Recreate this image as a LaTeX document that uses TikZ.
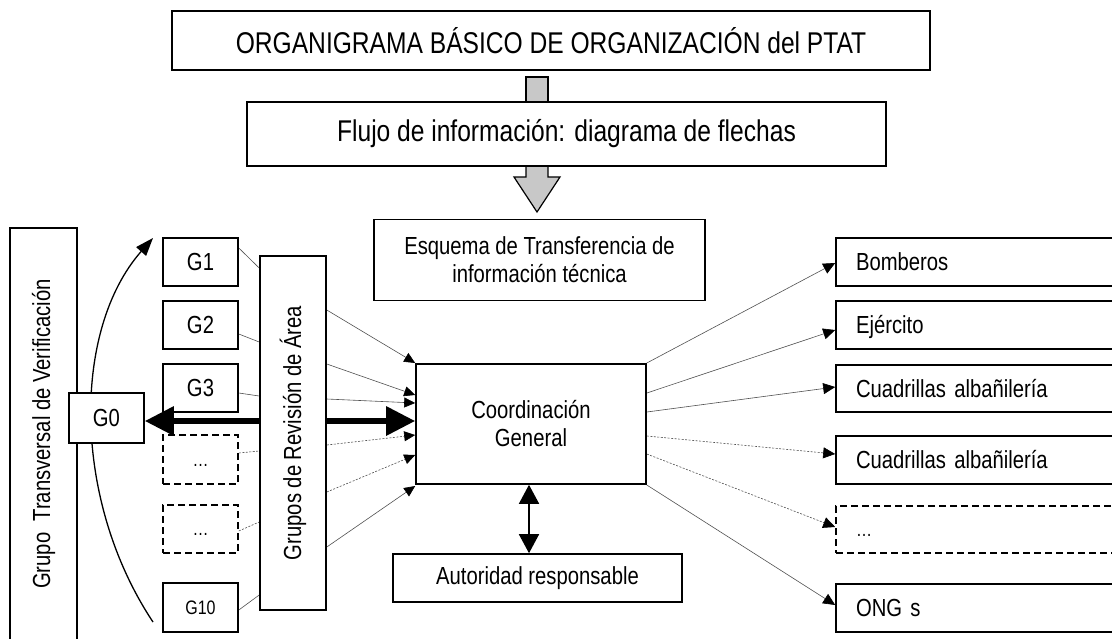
\documentclass[tikz,border=0pt]{standalone}
\usepackage{fontspec}
\setmainfont{Liberation Sans}[FakeStretch=0.82]
\usepackage{graphicx}
\usetikzlibrary{arrows.meta,calc}
\pgfdeclarelayer{bg}
\pgfsetlayers{bg,main}
\definecolor{arrowgray}{HTML}{C8C8C8}
\definecolor{linegray}{HTML}{505050}
\newcommand{\bigf}{\fontsize{30}{34}\selectfont\fontdimen2\font=6.8pt\relax}
\newcommand{\bodyf}{\fontsize{24.7}{28}\selectfont\fontdimen2\font=5.6pt\relax}
\newcommand{\smallf}{\fontsize{19.5}{22}\selectfont\fontdimen2\font=4.5pt\relax}
\begin{document}
\begin{tikzpicture}[x=1pt,y=-1pt,
  box/.style={draw, line width=1.6pt, fill=white, inner sep=0pt, font=\bodyf, align=center},
  dbox/.style={box, dash pattern=on 7pt off 4pt},
  gbox/.style={box, minimum width=75pt, minimum height=48pt},
  rbox/.style={box, align=left, text width=250pt, inner xsep=20pt, minimum height=48pt, text height=17.7pt, text depth=0pt},
  conn/.style={draw=linegray, line width=0.6pt},
  dconn/.style={conn, dash pattern=on 2pt off 1.5pt},
  tip/.style={-{Triangle[length=11pt,width=10pt,color=black]}},
  rtip/.style={-{Triangle[length=12pt,width=11pt,color=black]}},
  blockarrow/.style={draw, line width=1.2pt, fill=arrowgray}
]
\useasboundingbox (0,0) rectangle (1112,638);

% main boxes
\node[box, font=\bigf, minimum width=758pt, minimum height=59pt] (title) at (551,40.5) {ORGANIGRAMA BÁSICO DE ORGANIZACIÓN del PTAT};
\node[box, font=\bigf, minimum width=639pt, minimum height=64pt] (flujo) at (566.5,134) {Flujo de información: diagrama de flechas};
\node[box, minimum width=331pt, minimum height=81pt] (esq) at (539.5,260) {Esquema de Transferencia de\\información técnica};
\node[box, minimum width=230pt, minimum height=120pt] (coord) at (531,424) {Coordinación\\General};
\node[box, minimum width=289pt, minimum height=48pt] (aut) at (537.5,578) {Autoridad responsable};

% left side
\node[box, minimum width=67pt, minimum height=412pt] (gtv) at (43.5,434) {\rotatebox{90}{Grupo\ \ Transversal de Verificación}};
\node[box, minimum width=75pt, minimum height=50pt] (g0) at (106.5,418) {G0};
\node[gbox] (g1) at (200.5,262) {G1};
\node[gbox] (g2) at (200.5,325) {G2};
\node[gbox] (g3) at (200.5,388) {G3};
\node[dbox, font=\smallf, minimum width=75pt, minimum height=49pt] (d1) at (200.5,459.5) {\vphantom{G}…};
\node[dbox, font=\smallf, minimum width=75pt, minimum height=48pt] (d2) at (200.5,529) {\vphantom{G}…};
\node[gbox, font=\smallf, minimum height=49pt] (g10) at (200.5,607.5) {G10};

% thick double arrow G0 <-> Coordinacion (behind the review box)
\draw[line width=6pt, {Triangle[length=29pt,width=28pt]}-{Triangle[length=29pt,width=28pt]}]
  ([yshift=-3pt]g0.east) -- ([yshift=3pt]coord.west);

\node[box, minimum width=66pt, minimum height=354pt] (gra) at (293,433) {\rotatebox{90}{Grupos de Revisión de Área}};

% right side
\node[rbox] (r1) at (981,262) {Bomberos};
\node[rbox] (r2) at (981,325) {Ejército};
\node[rbox, minimum height=47pt] (r3) at (981,388.5) {Cuadrillas albañilería};
\node[rbox] (r4) at (981,460) {Cuadrillas albañilería};
\node[rbox, dash pattern=on 7pt off 4pt, minimum height=47pt, text height=14pt] (r5) at (981,529.5) {\smallf …};
\node[rbox] (r6) at (981,608) {ONG s};

% Coordinacion <-> Autoridad
\draw[line width=1.6pt, {Triangle[length=19pt,width=20pt]}-{Triangle[length=19pt,width=20pt]}]
  ([xshift=-2pt]coord.south) -- ([xshift=-8.5pt]aut.north);

\coordinate (cs) at (153,622);
\coordinate (ce) at (153,238);

\begin{pgfonlayer}{bg}
  % block arrows
  \draw[blockarrow] (526,77) rectangle (548,110);
  \draw[blockarrow] (526,160) -- (526,177) -- (514,177) -- (537,212) -- (560,177) -- (548,177) -- (548,160) -- cycle;
  % curved arrow
  \draw[line width=1.3pt, -{Triangle[length=18pt,width=13pt]}] (cs) .. controls (72,500) and (72,330) .. (ce);
  % G boxes -> review box
  \draw[conn] ([yshift=14pt]g1.east) -- ([yshift=165pt]gra.west);
  \draw[conn] ([yshift=-9pt]g2.east) -- ([yshift=91pt]gra.west);
  \draw[conn] ([yshift=-5pt]g3.east) -- ([yshift=37pt]gra.west);
  \draw[dconn] ([yshift=6.5pt]d1.east) -- ([yshift=-18pt]gra.west);
  \draw[dconn] ([yshift=-2pt]d2.east) -- ([yshift=-89pt]gra.west);
  \draw[conn] ([yshift=-2.5pt]g10.east) -- ([yshift=-162pt]gra.west);
  % review box -> Coordinacion
  \draw[conn, tip] ([yshift=123pt]gra.east) -- ([yshift=61pt]coord.west);
  \draw[conn, tip] ([yshift=69pt]gra.east) -- ([yshift=29pt]coord.west);
  \draw[conn, tip] ([yshift=34pt]gra.east) -- ([yshift=21pt]coord.west);
  \draw[dconn, tip] ([yshift=-12pt]gra.east) -- ([yshift=-11pt]coord.west);
  \draw[dconn, tip] ([yshift=-59pt]gra.east) -- ([yshift=-31pt]coord.west);
  \draw[conn, tip] ([yshift=-114pt]gra.east) -- ([yshift=-62pt]coord.west);
  % Coordinacion -> right boxes
  \draw[conn, rtip] ([yshift=61pt]coord.east) -- ([yshift=-1pt]r1.west);
  \draw[conn, rtip] ([yshift=31pt]coord.east) -- ([yshift=-5pt]r2.west);
  \draw[conn, rtip] ([yshift=12pt]coord.east) -- ([yshift=1.5pt]r3.west);
  \draw[dconn, rtip] ([yshift=-12pt]coord.east) -- ([yshift=6pt]r4.west);
  \draw[dconn, rtip] ([yshift=-30pt]coord.east) -- ([yshift=2.5pt]r5.west);
  \draw[conn, rtip] ([yshift=-61pt]coord.east) -- ([yshift=3pt]r6.west);
\end{pgfonlayer}
\end{tikzpicture}
\end{document}
